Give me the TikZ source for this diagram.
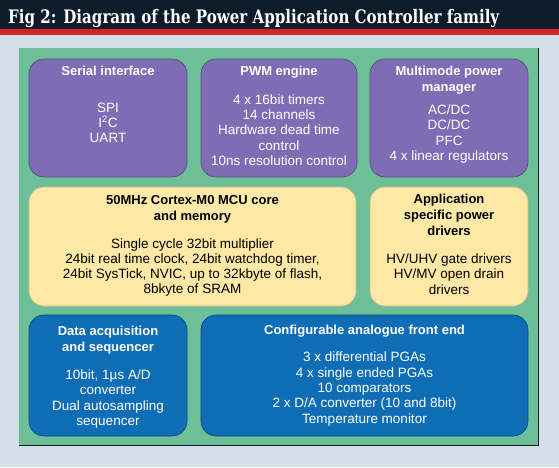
\documentclass[tikz,border=0pt]{standalone}
\usepackage{fontspec}
\setmainfont{Liberation Sans}
\newfontfamily\titlefont[FakeStretch=0.81]{DejaVu Serif}
\definecolor{navy}{RGB}{14,27,42}
\definecolor{stripe}{RGB}{214,32,42}
\definecolor{pale}{RGB}{211,224,232}
\definecolor{panel}{RGB}{108,191,151}
\definecolor{pacpurple}{RGB}{126,109,180}
\definecolor{pacyellow}{RGB}{253,232,166}
\definecolor{pacblue}{RGB}{15,109,181}
\begin{document}
\begin{tikzpicture}[x=1pt,y=-1pt,
  box/.style={rounded corners=15pt,inner sep=0pt,line width=0.7pt},
  purplebox/.style={box,fill=pacpurple,draw=pacpurple!70!black},
  yellowbox/.style={box,fill=pacyellow,draw=pacyellow!80!black},
  bluebox/.style={box,fill=pacblue,draw=pacblue!70!black},
  head/.style={font=\fontsize{13}{16}\selectfont\bfseries,align=center,inner sep=0pt},
  body/.style={font=\fontsize{13.5}{15.3}\selectfont,align=center,inner sep=0pt}]
  \useasboundingbox (0,0) rectangle (559,467);
  % background, title bar
  \fill[pale] (0,0) rectangle (559,467);
  \fill[navy] (0,0) rectangle (559,29);
  \fill[stripe] (0,29) rectangle (559,35);
  \node[anchor=base west,inner sep=0pt,text=white,font=\titlefont\fontsize{18.6}{20}\selectfont\bfseries] (title) at (8,23.5)
    {Fig 2: Diagram of the Power Application Controller family};
  % green panel
  \fill[panel] (19,48) rectangle (538,445);
  \draw[navy,line width=1pt] (19,445) -- (538,445) -- (538,48);

  % row 1
  \node[purplebox,minimum width=158pt,minimum height=118pt] (serial) at (108,118) {};
  \node[purplebox,minimum width=156pt,minimum height=118pt] (pwm) at (279,118) {};
  \node[purplebox,minimum width=158pt,minimum height=118pt] (power) at (449,118) {};
  \node[head,text=white] (serialhead) at (108,71) {Serial interface};
  \node[head,text=white] (pwmhead) at (279,72) {PWM engine};
  \node[head,text=white] (powerhead) at (449,80) {Multimode power\\manager};
  \node[body,text=white] (serialbody) at (108,123) {SPI\\I\textsuperscript{2}C\\UART};
  \node[body,text=white] (pwmbody) at (279,130) {4 x 16bit timers\\14 channels\\Hardware dead time\\control\\10ns resolution control};
  \node[body,text=white] (powerbody) at (449,134) {AC/DC\\DC/DC\\PFC\\4 x linear regulators};

  % row 2
  \node[yellowbox,minimum width=327pt,minimum height=119pt] (mcu) at (192.5,246.5) {};
  \node[yellowbox,minimum width=158pt,minimum height=119pt] (drivers) at (449,246.5) {};
  \node[head] (mcuhead) at (192.5,209) {50MHz Cortex-M0 MCU core\\and memory};
  \node[head] (drivershead) at (449,215) {Application\\specific power\\drivers};
  \node[body] (mcubody) at (192.5,267.5) {Single cycle 32bit multiplier\\24bit real time clock, 24bit watchdog timer,\\24bit SysTick, NVIC, up to 32kbyte of flash,\\8bkyte of SRAM};
  \node[body] (driversbody) at (449,274) {HV/UHV gate drivers\\HV/MV open drain\\drivers};

  % row 3
  \node[bluebox,minimum width=158pt,minimum height=121pt] (daq) at (108,375.5) {};
  \node[bluebox,minimum width=327pt,minimum height=121pt] (afe) at (364.5,375.5) {};
  \node[head,text=white] (daqhead) at (108,340) {Data acquisition\\and sequencer};
  \node[head,text=white] (afehead) at (364.5,331.5) {Configurable analogue front end};
  \node[body,text=white] (daqbody) at (108,399) {10bit, 1µs A/D\\converter\\Dual autosampling\\sequencer};
  \node[body,text=white] (afebody) at (364.5,389) {3 x differential PGAs\\4 x single ended PGAs\\10 comparators\\2 x D/A converter (10 and 8bit)\\Temperature monitor};
\end{tikzpicture}
\end{document}
